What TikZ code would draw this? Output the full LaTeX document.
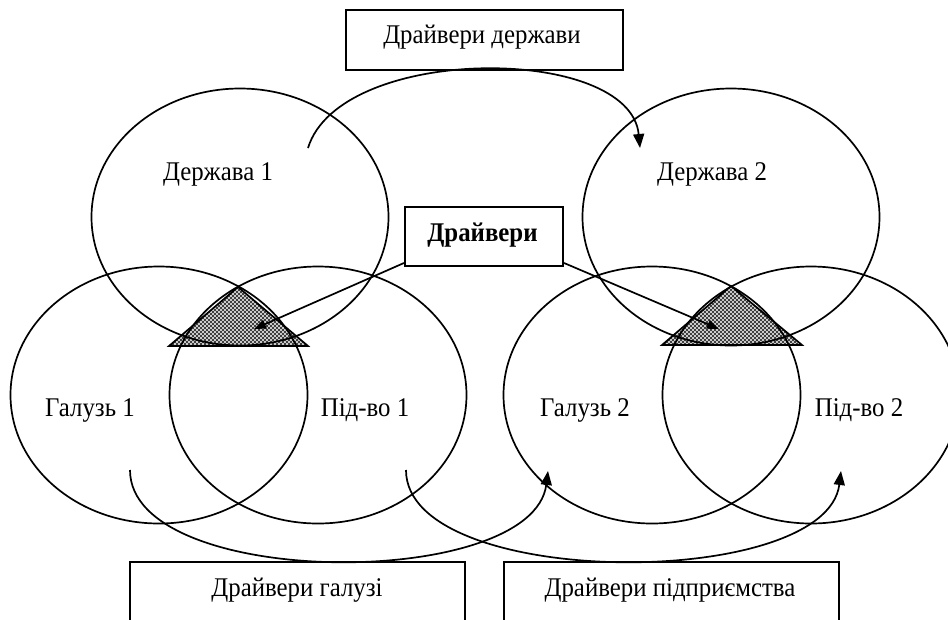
\documentclass[tikz,border=0pt]{standalone}
\usepackage{fontspec}
\setmainfont{Liberation Serif}[FakeStretch=0.92]
\usetikzlibrary{shapes.geometric,arrows.meta,patterns}
\pgfdeclarepatternformonly{wdots}{\pgfqpoint{-1pt}{-1pt}}{\pgfqpoint{5pt}{5pt}}{\pgfqpoint{4pt}{4pt}}{%
 \pgfpathcircle{\pgfqpoint{1pt}{1pt}}{1.05pt}%
 \pgfpathcircle{\pgfqpoint{3pt}{3pt}}{1.05pt}%
 \pgfusepath{fill}}
\begin{document}
\begin{tikzpicture}[x=1pt,y=-1pt,
  ell/.style={draw, ellipse, line width=1.7pt, inner sep=0pt, minimum width=297pt, minimum height=257pt},
  box/.style={draw, line width=1.9pt, inner sep=0pt},
  lbl/.style={anchor=base, inner sep=0pt, font=\fontsize{27}{32}\selectfont},
  arr/.style={line width=1.7pt, -{Triangle[length=14pt,width=11pt]}},
  sarr/.style={line width=1.7pt, -{Triangle[length=12pt,width=9pt]}},
  tri/.style={line width=1.7pt}
]
\useasboundingbox (0,0) rectangle (948,619);
\fill[white] (0,0) rectangle (948,619);
\clip (0,0) rectangle (948,619);

% shaded triangles
\coordinate (t1a) at (238,287); \coordinate (t1b) at (169,346); \coordinate (t1c) at (308,346);
\coordinate (t2a) at (731,286); \coordinate (t2b) at (662,345); \coordinate (t2c) at (802,345);
\fill[black!78] (t1a) -- (t1b) -- (t1c) -- cycle;
\fill[pattern=wdots, pattern color=white] (t1a) -- (t1b) -- (t1c) -- cycle;
\draw[tri] (t1a) -- (t1b) -- (t1c) -- cycle;
\fill[black!78] (t2a) -- (t2b) -- (t2c) -- cycle;
\fill[pattern=wdots, pattern color=white] (t2a) -- (t2b) -- (t2c) -- cycle;
\draw[tri] (t2a) -- (t2b) -- (t2c) -- cycle;

% ellipses
\node[ell] (d1) at (240,217) {};
\node[ell] (d2) at (731,217) {};
\node[ell] (g1) at (159,395) {};
\node[ell] (p1) at (318,395) {};
\node[ell] (g2) at (652,395) {};
\node[ell] (p2) at (811,395) {};

% labels
\node[lbl] (ld1) at (218,180) {Держава 1};
\node[lbl] (ld2) at (712,180) {Держава 2};
\node[lbl] (lg1) at (90,416) {Галузь 1};
\node[lbl] (lp1) at (365,416) {Під-во 1};
\node[lbl] (lg2) at (585,416) {Галузь 2};
\node[lbl] (lp2) at (859,416) {Під-во 2};

% boxes
\node[box, minimum width=277pt, minimum height=60pt] (bs) at (484.5,40) {};
\node[lbl] (bst) at (482,43) {Драйвери держави};
\node[box, minimum width=158pt, minimum height=59pt] (dr) at (484,236.5) {};
\node[lbl, font=\fontsize{27}{32}\selectfont\bfseries] (drt) at (482.5,241) {Драйвери};
\node[box, minimum width=335pt, minimum height=80pt] (bg) at (297.5,602) {};
\node[lbl] (bgt) at (297,596) {Драйвери галузі};
\node[box, minimum width=335pt, minimum height=80pt] (bp) at (671.5,602) {};
\node[lbl] (bpt) at (670,596) {Драйвери підприємства};

% connector ends
\coordinate (stop) at (308,148);
\coordinate (etop) at (640,148);
\coordinate (tip1) at (254,329);
\coordinate (tip2) at (719,329);
\coordinate (sg) at (130,470);
\coordinate (eg) at (548,471);
\coordinate (sp) at (406,470);
\coordinate (ep) at (841,471);

% connectors
\draw[arr] (stop) .. controls +(32,-104) and +(-10,-104) .. (etop);
\draw[sarr] ([yshift=4pt]dr.south west) -- (tip1);
\draw[sarr] ([yshift=4pt]dr.south east) -- (tip2);
\draw[arr] (sg) .. controls +(0,120) and +(-15,120) .. (eg);
\draw[arr] (sp) .. controls +(0,120) and +(-15,120) .. (ep);
\end{tikzpicture}
\end{document}
